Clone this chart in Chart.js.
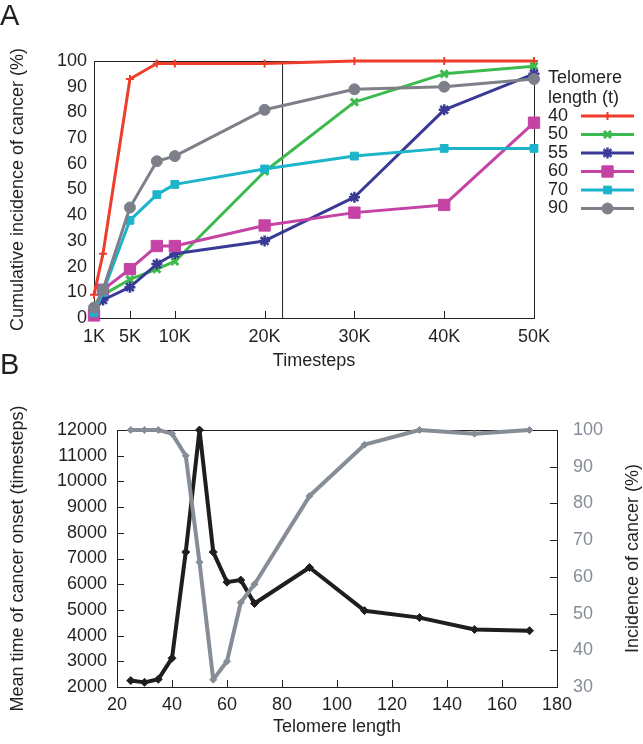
<!DOCTYPE html>
<html>
<head>
<meta charset="utf-8">
<script src="https://cdn.jsdelivr.net/npm/chart.js@4.4.1/dist/chart.umd.min.js"></script>
<style>
  html, body { margin: 0; padding: 0; background: #fff; }
  #wrap { position: relative; width: 643px; height: 744px; font-family: "Liberation Sans", Arial, sans-serif; color: #231f20; }
  #wrap canvas { position: absolute; left: 0; }
  .tag { position: absolute; left: 0; font-size: 29px; line-height: 1; }
</style>
</head>
<body>
<div id="wrap">
  <canvas id="chartA" width="643" height="372" style="top:0"></canvas>
  <canvas id="chartB" width="643" height="372" style="top:372px"></canvas>
  <div class="tag" style="top:1px">A</div>
  <div class="tag" style="top:350px">B</div>
</div>
<script>
// Panel A: cumulative incidence over time, one series per telomere length.
const timesteps = [1000, 2000, 5000, 8000, 10000, 20000, 30000, 40000, 50000];
const timestepTicks = [1000, 5000, 10000, 20000, 30000, 40000, 50000];
const telomereKeys = ['40', '50', '55', '60', '70', '90'];
const incidence40 = [9, 25, 93, 99, 99, 99, 100, 100, 100];
const incidence50 = [3, 9, 15, 19, 22, 57, 84, 95, 98];
const incidence55 = [3, 7, 12, 21, 25, 30, 47, 81, 95];
const incidence60 = [1, 11, 19, 28, 28, 36, 41, 44, 76];
const incidence70 = [2, 10, 38, 48, 52, 58, 63, 66, 66];
const incidence90 = [4, 11, 43, 61, 63, 81, 89, 90, 93];
const markerStep = 22000;

// Panel B: mean onset time and incidence against telomere length.
const telomereLength = [25, 30, 35, 40, 45, 50, 55, 60, 65, 70, 90, 110, 130, 150, 170];
const meanOnset = [2250, 2180, 2300, 3120, 7250, 12000, 7250, 6080, 6160, 5250, 6650, 4970, 4700, 4240, 4190];
const incidencePct = [100, 100, 100, 99, 93, 64, 32, 37, 53, 58, 82, 96, 100, 99, 100];

const textColor = '#231f20';
const fontFamily = '"Liberation Sans", Arial, sans-serif';
const tickFont = { family: fontFamily, size: 18 };
const titleFont = { family: fontFamily, size: 18 };
const noGrid = { display: false, drawTicks: false };

function toPoints(xs, ys) {
	return xs.map(function(x, i) { return { x: x, y: ys[i] }; });
}

// Box round the plot area plus gnuplot-style inward ticks.
const framePlugin = {
	id: 'frame',
	beforeDatasetsDraw: function(chart, args, opts) {
		const ctx = chart.ctx;
		const a = chart.chartArea;
		ctx.save();
		ctx.strokeStyle = textColor;
		ctx.lineWidth = 1;
		ctx.strokeRect(Math.round(a.left) + 0.5, Math.round(a.top) + 0.5, Math.round(a.width), Math.round(a.height));
		(opts.ticks || []).forEach(function(t) {
			const scale = chart.scales[t.axis];
			scale.ticks.forEach(function(tick) {
				const p = Math.round(scale.getPixelForValue(tick.value)) + 0.5;
				ctx.beginPath();
				if (t.side === 'bottom') {
					ctx.moveTo(p, a.bottom);
					ctx.lineTo(p, a.bottom - 7);
				} else if (t.side === 'left') {
					ctx.moveTo(a.left, p);
					ctx.lineTo(a.left + 7, p);
				} else {
					ctx.moveTo(a.right, p);
					ctx.lineTo(a.right - 7, p);
				}
				ctx.stroke();
			});
		});
		ctx.restore();
	}
};

// Key on the right of panel A, label first and sample line after it.
const seriesKeyPlugin = {
	id: 'seriesKey',
	afterDraw: function(chart, args, opts) {
		if (!opts.x) {
			return;
		}
		const ctx = chart.ctx;
		ctx.save();
		ctx.font = '18px ' + fontFamily;
		ctx.fillStyle = textColor;
		ctx.textBaseline = 'middle';
		ctx.textAlign = 'left';
		opts.title.forEach(function(line, i) {
			ctx.fillText(line, opts.x, opts.titleY + i * 20);
		});
		let row = 0;
		chart.data.datasets.forEach(function(ds) {
			if (ds.isGuide) {
				return;
			}
			const y = opts.rowY + row * opts.rowGap;
			ctx.fillStyle = textColor;
			ctx.fillText(ds.label, opts.x, y);
			ctx.strokeStyle = ds.borderColor;
			ctx.lineWidth = ds.borderWidth;
			ctx.beginPath();
			ctx.moveTo(opts.lineFrom, y);
			ctx.lineTo(opts.lineTo, y);
			ctx.stroke();
			ctx.fillStyle = ds.pointBackgroundColor;
			ctx.lineWidth = ds.pointBorderWidth;
			Chart.helpers.drawPoint(ctx, {
				pointStyle: ds.pointStyle,
				radius: ds.pointRadius,
				borderWidth: ds.pointBorderWidth,
				rotation: 0
			}, (opts.lineFrom + opts.lineTo) / 2, y);
			row++;
		});
		ctx.restore();
	}
};

// Right-hand axis title of panel B, read bottom to top.
const rightTitlePlugin = {
	id: 'rightTitle',
	afterDraw: function(chart, args, opts) {
		if (!opts.text) {
			return;
		}
		const ctx = chart.ctx;
		const a = chart.chartArea;
		ctx.save();
		ctx.translate(opts.x, (a.top + a.bottom) / 2);
		ctx.rotate(-Math.PI / 2);
		ctx.font = '18px ' + fontFamily;
		ctx.fillStyle = textColor;
		ctx.textAlign = 'center';
		ctx.textBaseline = 'middle';
		ctx.fillText(opts.text, 0, 0);
		ctx.restore();
	}
};

function series(label, values, color, style, radius, pointWidth, order) {
	return {
		label: label,
		data: toPoints(timesteps, values),
		borderColor: color,
		backgroundColor: color,
		borderWidth: 3,
		borderJoinStyle: 'round',
		pointStyle: style,
		pointRadius: radius,
		pointBorderWidth: pointWidth,
		pointBackgroundColor: color,
		pointBorderColor: color,
		tension: 0,
		clip: false,
		order: order
	};
}

new Chart(document.getElementById('chartA'), {
	type: 'line',
	data: {
		datasets: [
			{
				label: '',
				isGuide: true,
				data: [{ x: markerStep, y: 0 }, { x: markerStep, y: 100 }],
				borderColor: textColor,
				borderWidth: 1,
				pointRadius: 0,
				order: 10
			},
			series(telomereKeys[0], incidence40, '#ee3e2b', 'cross', 4, 2, 6),
			series(telomereKeys[1], incidence50, '#3dba4e', 'crossRot', 5, 3, 5),
			series(telomereKeys[2], incidence55, '#393a96', 'star', 5.5, 2.5, 4),
			series(telomereKeys[3], incidence60, '#c443a4', 'rect', 8, 1, 3),
			series(telomereKeys[4], incidence70, '#1bb4c9', 'rect', 5.5, 1, 2),
			series(telomereKeys[5], incidence90, '#7e8089', 'circle', 5.5, 1, 1)
		]
	},
	options: {
		responsive: false,
		animation: false,
		layout: { padding: { top: 61, right: 109, bottom: 0, left: 0 } },
		plugins: {
			legend: { display: false },
			tooltip: { enabled: false },
			frame: { ticks: [{ axis: 'x', side: 'bottom' }] },
			seriesKey: {
				x: 548,
				title: ['Telomere', 'length (t)'],
				titleY: 78,
				rowY: 116,
				rowGap: 18.5,
				lineFrom: 581,
				lineTo: 634
			}
		},
		scales: {
			x: {
				type: 'linear',
				min: 1000,
				max: 50000,
				grid: noGrid,
				border: { display: false },
				afterBuildTicks: function(scale) {
					scale.ticks = timestepTicks.map(function(v) { return { value: v }; });
				},
				afterFit: function(scale) {
					scale.height = 54;
				},
				ticks: {
					padding: 8,
					font: tickFont,
					color: textColor,
					autoSkip: false,
					maxRotation: 0,
					callback: function(value) {
						return (value / 1000) + 'K';
					}
				},
				title: { display: true, text: 'Timesteps', font: titleFont, color: textColor, padding: { top: 0, bottom: 0 } }
			},
			y: {
				min: 0,
				max: 100,
				grid: noGrid,
				border: { display: false },
				afterFit: function(scale) {
					scale.width = 94;
				},
				ticks: { stepSize: 10, padding: 7, font: tickFont, color: textColor },
				title: { display: true, text: 'Cumulative incidence of cancer (%)', font: titleFont, color: textColor, padding: { top: 7, bottom: 0 } }
			}
		}
	},
	plugins: [framePlugin, seriesKeyPlugin]
});

const onsetColor = '#1e1e1e';
const incidenceColor = '#878d96';

new Chart(document.getElementById('chartB'), {
	type: 'line',
	data: {
		datasets: [
			{
				label: 'Incidence of cancer (%)',
				data: toPoints(telomereLength, incidencePct),
				yAxisID: 'yRight',
				borderColor: incidenceColor,
				backgroundColor: incidenceColor,
				borderWidth: 4,
				borderJoinStyle: 'round',
				pointStyle: 'rectRot',
				pointRadius: 3.5,
				pointBorderWidth: 1,
				pointBackgroundColor: incidenceColor,
				pointBorderColor: incidenceColor,
				tension: 0,
				clip: false
			},
			{
				label: 'Mean time of cancer onset (timesteps)',
				data: toPoints(telomereLength, meanOnset),
				yAxisID: 'y',
				borderColor: onsetColor,
				backgroundColor: onsetColor,
				borderWidth: 4,
				borderJoinStyle: 'round',
				pointStyle: 'rectRot',
				pointRadius: 4,
				pointBorderWidth: 1,
				pointBackgroundColor: onsetColor,
				pointBorderColor: onsetColor,
				tension: 0,
				clip: false
			}
		]
	},
	options: {
		responsive: false,
		animation: false,
		layout: { padding: { top: 58, right: 0, bottom: 0, left: 0 } },
		plugins: {
			legend: { display: false },
			tooltip: { enabled: false },
			frame: {
				ticks: [
					{ axis: 'x', side: 'bottom' },
					{ axis: 'y', side: 'left' },
					{ axis: 'yRight', side: 'right' }
				]
			},
			rightTitle: { text: 'Incidence of cancer (%)', x: 633 }
		},
		scales: {
			x: {
				type: 'linear',
				min: 20,
				max: 180,
				grid: noGrid,
				border: { display: false },
				afterFit: function(scale) {
					scale.height = 57;
				},
				ticks: { stepSize: 20, padding: 7, font: tickFont, color: textColor, maxRotation: 0 },
				title: { display: true, text: 'Telomere length', font: titleFont, color: textColor, padding: { top: 0, bottom: 6 } }
			},
			y: {
				position: 'left',
				min: 2000,
				max: 12000,
				grid: noGrid,
				border: { display: false },
				afterFit: function(scale) {
					scale.width = 117;
				},
				ticks: {
					stepSize: 1000,
					padding: 10,
					font: tickFont,
					color: textColor,
					callback: function(value) {
						return String(value);
					}
				},
				title: { display: true, text: 'Mean time of cancer onset (timesteps)', font: titleFont, color: textColor, padding: { top: 7, bottom: 0 } }
			},
			yRight: {
				position: 'right',
				min: 30,
				max: 100,
				grid: noGrid,
				border: { display: false },
				afterFit: function(scale) {
					scale.width = 86;
				},
				ticks: { stepSize: 10, padding: 16, font: tickFont, color: incidenceColor }
			}
		}
	},
	plugins: [framePlugin, rightTitlePlugin]
});
</script>
</body>
</html>
